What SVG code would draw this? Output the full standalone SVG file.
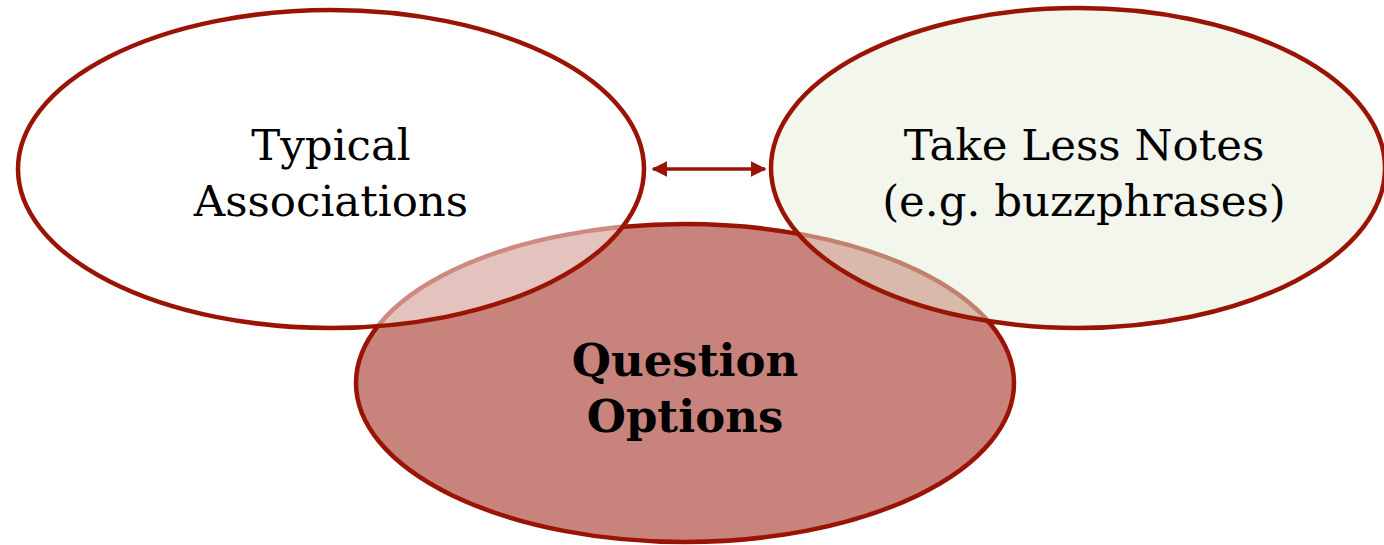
<svg xmlns="http://www.w3.org/2000/svg" width="1384" height="545" viewBox="0 0 1384 545">
<style>
.node{stroke:#9a1405;stroke-width:4.5}
.lbl{font-family:"DejaVu Serif","Liberation Serif",serif;font-size:43.5px;fill:#000;text-anchor:middle}
.bold{font-weight:bold;font-size:45px}
.conn{stroke:#9a1405;stroke-width:3.5;fill:none}
</style>
<defs>
<marker id="ah" viewBox="0 0 10 10" refX="9" refY="5" markerWidth="4.5" markerHeight="4.5" orient="auto-start-reverse" markerUnits="strokeWidth">
<path d="M0,0 L10,5 L0,10 z" fill="#9a1405"/>
</marker>
</defs>
<rect width="1384" height="545" fill="#fff"/>
<g id="question-options">
<ellipse class="node" cx="685" cy="383" rx="329" ry="159" fill="#c8847c"/>
</g>
<g id="typical-associations">
<ellipse class="node" cx="331" cy="169" rx="313" ry="159" fill="#ffffff" fill-opacity="0.5"/>
<text class="lbl" x="331" y="160">Typical</text>
<text class="lbl" x="331" y="216">Associations</text>
</g>
<g id="take-less-notes">
<ellipse class="node" cx="1078" cy="168" rx="307" ry="160" fill="#e7edd9" fill-opacity="0.5"/>
<text class="lbl" x="1084" y="160">Take Less Notes</text>
<text class="lbl" x="1084" y="216">(e.g. buzzphrases)</text>
</g>
<g id="question-options-label">
<text class="lbl bold" x="685" y="376">Question</text>
<text class="lbl bold" x="685" y="432">Options</text>
</g>
<g id="connectors">
<line class="conn" x1="653" y1="169" x2="765" y2="169" marker-start="url(#ah)" marker-end="url(#ah)"/>
</g>
</svg>
